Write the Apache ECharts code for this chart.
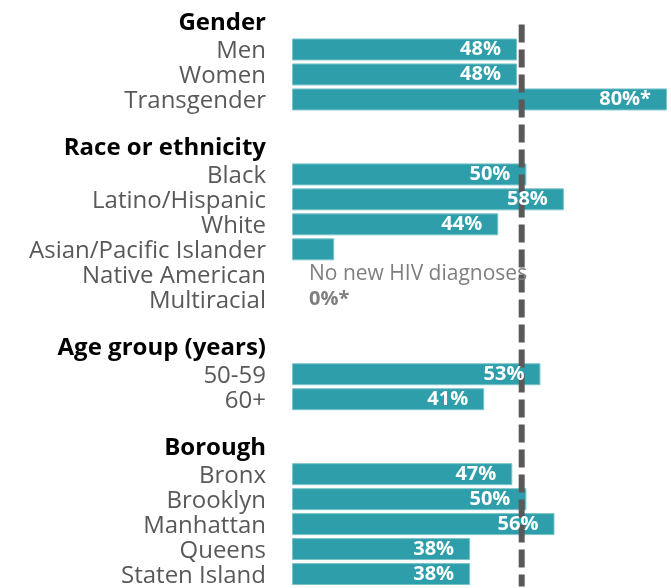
<!DOCTYPE html>
<html>
<head>
<meta charset="utf-8">
<script src="https://cdn.jsdelivr.net/npm/echarts@6/dist/echarts.min.js"></script>
<style>
  html, body { margin: 0; padding: 0; background: #fff; }
  #chart { width: 671px; height: 588px; }
</style>
</head>
<body>
<div id="chart"></div>
<script>
  // rows of the chart, headers are bold, '' is a spacer row
  const categories = ['Gender', 'Men', 'Women', 'Transgender', '',
    'Race or ethnicity', 'Black', 'Latino/Hispanic', 'White', 'Asian/Pacific Islander', 'Native American', 'Multiracial', '',
    'Age group (years)', '50-59', '60+', '',
    'Borough', 'Bronx', 'Brooklyn', 'Manhattan', 'Queens', 'Staten Island'];
  const headers = ['Gender', 'Race or ethnicity', 'Age group (years)', 'Borough'];
  const values = [null, 48, 48, 80, null,
    null, 50, 58, 44, 9, 0, 0, null,
    null, 53, 41, null,
    null, 47, 50, 56, 38, 38];
  const valueLabels = ['', '48%', '48%', '80%*', '',
    '', '50%', '58%', '44%', '', 'No new HIV diagnoses', '0%*', '',
    '', '53%', '41%', '',
    '', '47%', '50%', '56%', '38%', '38%'];
  const overall = 49;          // dashed reference line (%)
  const lineRows = [0.5, 23];  // line runs from the first header row down to the bottom

  const FONT = 'Open Sans';
  const teal = '#2e9faa';

  let chart = echarts.init(document.getElementById('chart'));

  const barData = values.map(function (v) {
    if (v === 0) {
      return { value: v, itemStyle: { borderWidth: 0 } };
    }
    return v;
  });

  const labelData = values.map(function (v, i) {
    let item = { value: v };
    if (v === 0) {
      item.label = {
        show: true,
        position: 'right',
        distance: 17,
        color: '#7f7f7f',
        fontWeight: valueLabels[i] === '0%*' ? 'bold' : 'normal',
        fontSize: valueLabels[i] === '0%*' ? 20 : 21,
        formatter: valueLabels[i]
      };
    }
    return item;
  });

  const option = {
    animation: false,
    grid: {
      left: 292,
      right: 4,
      top: 12,
      bottom: -2
    },
    xAxis: {
      type: 'value',
      min: 0,
      max: 80,
      show: false
    },
    yAxis: [
      {
        type: 'category',
        data: categories,
        inverse: true,
        axisLine: { show: false },
        axisTick: { show: false },
        axisLabel: {
          margin: 26,
          fontFamily: FONT,
          formatter: function (name) {
            if (headers.indexOf(name) >= 0) {
              return '{h|' + name + '}';
            }
            return '{n|' + name + '}';
          },
          rich: {
            h: { fontSize: 24, fontWeight: 'bold', color: '#000', fontFamily: FONT, padding: [0, 0, 2, 0] },
            n: { fontSize: 24, color: '#595959', fontFamily: FONT, padding: [4, 0, 0, 0] }
          }
        }
      },
      {
        type: 'value',
        min: 0,
        max: 23,
        inverse: true,
        show: false
      }
    ],
    series: [
      {
        type: 'bar',
        z: 2,
        barWidth: 22,
        barGap: '-100%',
        itemStyle: { color: teal, borderColor: '#7cc4ca', borderWidth: 1 },
        data: barData
      },
      {
        type: 'line',
        z: 3,
        yAxisIndex: 1,
        symbol: 'none',
        silent: true,
        lineStyle: { color: '#595959', width: 6, type: [18, 7] },
        data: lineRows.map(function (r) { return [overall, r]; })
      },
      {
        type: 'bar',
        z: 4,
        barWidth: 22,
        barGap: '-100%',
        itemStyle: { color: 'transparent' },
        label: {
          show: true,
          position: 'insideRight',
          distance: 16,
          color: '#fff',
          fontFamily: FONT,
          fontWeight: 'bold',
          fontSize: 20,
          formatter: function (p) { return valueLabels[p.dataIndex]; }
        },
        data: labelData
      }
    ]
  };

  chart.setOption(option);

  window.addEventListener('resize', function () {
    chart.resize();
  });
</script>
</body>
</html>
